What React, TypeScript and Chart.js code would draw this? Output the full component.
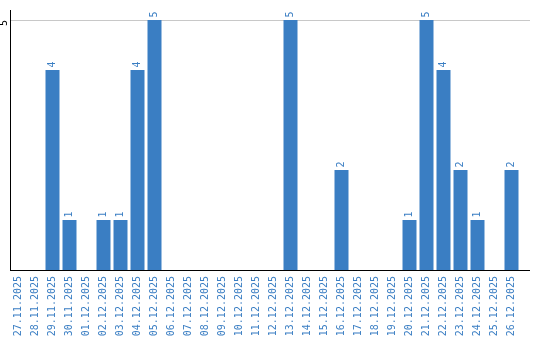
import React, { useEffect, useRef } from "react";
import { Chart, registerables } from "chart.js";

Chart.register(...registerables);

const categories = [
  "27.11.2025", "28.11.2025", "29.11.2025", "30.11.2025", "01.12.2025",
  "02.12.2025", "03.12.2025", "04.12.2025", "05.12.2025", "06.12.2025",
  "07.12.2025", "08.12.2025", "09.12.2025", "10.12.2025", "11.12.2025",
  "12.12.2025", "13.12.2025", "14.12.2025", "15.12.2025", "16.12.2025",
  "17.12.2025", "18.12.2025", "19.12.2025", "20.12.2025", "21.12.2025",
  "22.12.2025", "23.12.2025", "24.12.2025", "25.12.2025", "26.12.2025",
];

const values = [
  0, 0, 4, 1, 0, 1, 1, 4, 5, 0,
  0, 0, 0, 0, 0, 0, 5, 0, 0, 2,
  0, 0, 0, 1, 5, 4, 2, 1, 0, 2,
];

const yTicks = [5];

const BLUE = "#3a7ec3";
const FONT = "DejaVu Sans Mono";
const EXTEND = 10;

const labelPlugin = {
  id: "customLabels",
  beforeDatasetsDraw(chart: any) {
    const ctx = chart.ctx;
    const ca = chart.chartArea;
    const ys = chart.scales.y;
    ctx.save();
    ctx.lineWidth = 1;
    ctx.strokeStyle = "#c8c8c8";
    yTicks.forEach((t) => {
      const y = Math.round(ys.getPixelForValue(t)) + 0.5;
      ctx.beginPath();
      ctx.moveTo(ca.right, y);
      ctx.lineTo(ca.right + EXTEND, y);
      ctx.stroke();
    });
    ctx.strokeStyle = "#000";
    const yb = Math.round(ca.bottom) + 0.5;
    ctx.beginPath();
    ctx.moveTo(ca.right - 1, yb);
    ctx.lineTo(ca.right + EXTEND, yb);
    ctx.stroke();
    ctx.restore();
  },
  afterDatasetsDraw(chart: any) {
    const ctx = chart.ctx;
    const meta = chart.getDatasetMeta(0);
    ctx.save();
    ctx.font = `10px "${FONT}"`;
    ctx.fillStyle = BLUE;
    ctx.textAlign = "left";
    ctx.textBaseline = "middle";
    meta.data.forEach((bar: any, i: number) => {
      const v = values[i];
      if (!v) return;
      ctx.save();
      ctx.translate(bar.x, bar.y - 2.5);
      ctx.rotate(-Math.PI / 2);
      ctx.fillText(String(v), 0, 0);
      ctx.restore();
    });
    const ys = chart.scales.y;
    ctx.fillStyle = "#000";
    ctx.textAlign = "right";
    yTicks.forEach((t) => {
      ctx.save();
      ctx.translate(4, ys.getPixelForValue(t));
      ctx.rotate(-Math.PI / 2);
      ctx.fillText(String(t), 0, 0);
      ctx.restore();
    });
    ctx.restore();
  },
};

export default function App() {
  const ref = useRef<HTMLCanvasElement>(null);
  useEffect(() => {
    if (!ref.current) return;
    const chart = new Chart(ref.current, {
      type: "bar",
      data: {
        labels: categories,
        datasets: [
          {
            data: values,
            backgroundColor: BLUE,
            barPercentage: 14 / 17,
            categoryPercentage: 1,
          },
        ],
      },
      options: {
        animation: false,
        responsive: false,
        maintainAspectRatio: false,
        layout: { padding: { top: 10, right: 20, left: 0, bottom: 0 } },
        plugins: { legend: { display: false }, tooltip: { enabled: false } },
        scales: {
          x: {
            grid: { display: false, drawTicks: false },
            border: { display: true, color: "#000", width: 1 },
            ticks: {
              minRotation: 90,
              maxRotation: 90,
              autoSkip: false,
              padding: 6,
              color: BLUE,
              font: { family: FONT, size: 10 },
            },
            afterFit(scale: any) {
              scale.height = 70;
            },
          },
          y: {
            min: 0,
            max: 5.2,
            afterBuildTicks(scale: any) {
              scale.ticks = yTicks.map((v) => ({ value: v }));
            },
            grid: { color: "#c8c8c8", drawTicks: false },
            border: { display: true, color: "#000", width: 1 },
            ticks: { display: false },
            afterFit(scale: any) {
              scale.width = 10;
            },
          },
        },
      },
      plugins: [labelPlugin],
    });
    return () => chart.destroy();
  }, []);
  return (
    <div style={{ position: "fixed", left: 0, top: 0, width: 540, height: 340, background: "#fff" }}>
      <canvas ref={ref} width={540} height={340} />
    </div>
  );
}
